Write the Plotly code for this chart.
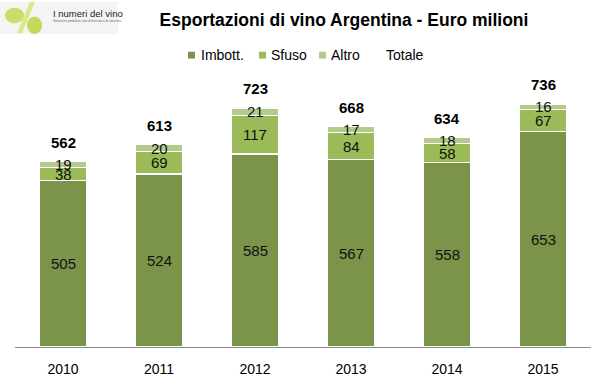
import plotly.graph_objects as go

years = ["2010", "2011", "2012", "2013", "2014", "2015"]
imbott = [505, 524, 585, 567, 558, 653]
sfuso = [38, 69, 117, 84, 58, 67]
altro = [19, 20, 21, 17, 18, 16]
totale = [562, 613, 723, 668, 634, 736]
series_names = ["Imbott.", "Sfuso", "Altro", "Totale"]

c_imb = "#7b9449"
c_sfu = "#9bbb59"
c_alt = "#b3cb8a"
FONT = "Liberation Sans, Arial"

W, H = 605, 389
ML, MR, MT, MB = 15, 14, 83, 36
PW, PH = W - ML - MR, H - MT - MB


def px(x):
    return (x - ML) / PW


def py(y):
    return (H - MB - y) / PH


fig = go.Figure()
for name, vals, col in [(series_names[0], imbott, c_imb), (series_names[1], sfuso, c_sfu),
                        (series_names[2], altro, c_alt)]:
    fig.add_trace(go.Bar(x=years, y=vals, name=name, showlegend=False,
                         marker=dict(color=col, line=dict(color="white", width=1.2))))

ann = []
for i, yr in enumerate(years):
    base = 0
    for vals in (imbott, sfuso, altro):
        v = vals[i]
        ann.append(dict(x=i, y=base + v / 2, text=str(v), showarrow=False,
                        font=dict(size=15, color="#111", family=FONT), yanchor="middle"))
        base += v
    ann.append(dict(x=i, y=totale[i], text="<b>%d</b>" % totale[i], showarrow=False, yanchor="bottom", yshift=9,
                    font=dict(size=15, color="black", family=FONT)))

shapes = []
# manual legend
leg_cols = [c_imb, c_sfu, c_alt, None]
leg_marker_x = [188, 259, 319, None]
leg_text_x = [199, 269, 329, 384]
for name, col, mx, tx in zip(series_names, leg_cols, leg_marker_x, leg_text_x):
    if col:
        shapes.append(dict(type="rect", xref="paper", yref="paper", x0=px(mx), x1=px(mx + 7),
                           y0=py(58), y1=py(51), fillcolor=col, line=dict(width=0)))
    ann.append(dict(xref="paper", yref="paper", x=px(tx), y=py(54.5), xanchor="left", yanchor="middle",
                    text=name, showarrow=False, font=dict(size=14, color="black", family=FONT)))

# logo area
shapes.append(dict(type="rect", xref="paper", yref="paper", x0=px(0), x1=px(118), y0=py(33), y1=py(0),
                   fillcolor="#f4f4f4", line=dict(width=0), layer="below"))
shapes.append(dict(type="path", xref="paper", yref="paper",
                   path="M %f,%f L %f,%f L %f,%f L %f,%f Z" % (px(30), py(0), px(35), py(0), px(22), py(32), px(17), py(32)),
                   fillcolor="#d9ea86", line=dict(width=0)))
shapes.append(dict(type="circle", xref="paper", yref="paper", x0=px(5), x1=px(24), y0=py(22), y1=py(6),
                   fillcolor="#c9df6a", line=dict(width=0)))
shapes.append(dict(type="circle", xref="paper", yref="paper", x0=px(27), x1=px(42), y0=py(33), y1=py(15),
                   fillcolor="#c2da5c", line=dict(width=0)))
ann.append(dict(xref="paper", yref="paper", x=px(51), y=py(12), xanchor="left", yanchor="middle",
                text="I numeri del vino", showarrow=False,
                font=dict(size=9.5, color="#222", family=FONT)))
ann.append(dict(xref="paper", yref="paper", x=px(51), y=py(20), xanchor="left", yanchor="middle",
                text="Statistiche produttive, dati di mercato e di consumo", showarrow=False,
                font=dict(size=3, color="#666", family=FONT)))

fig.update_layout(
    barmode="stack",
    bargap=0.5,
    width=W, height=H,
    margin=dict(l=ML, r=MR, t=MT, b=MB),
    paper_bgcolor="white", plot_bgcolor="white",
    title=dict(text="<b>Esportazioni di vino Argentina - Euro milioni</b>", x=px(344), xanchor="center",
               xref="paper", y=1 - 20 / H, yanchor="middle",
               font=dict(size=17.5, color="black", family=FONT)),
    showlegend=False,
    annotations=ann,
    shapes=shapes,
    xaxis=dict(type="category", showline=True, linecolor="#8a8a8a", linewidth=1, ticks="", showgrid=False,
               ticklabelstandoff=9,
               tickfont=dict(size=14, color="black", family=FONT)),
    yaxis=dict(range=[0, 800], visible=False, showgrid=False),
)

fig.write_html("out.html", config={"displayModeBar": False},
               post_script="document.body.style.margin='0';")
